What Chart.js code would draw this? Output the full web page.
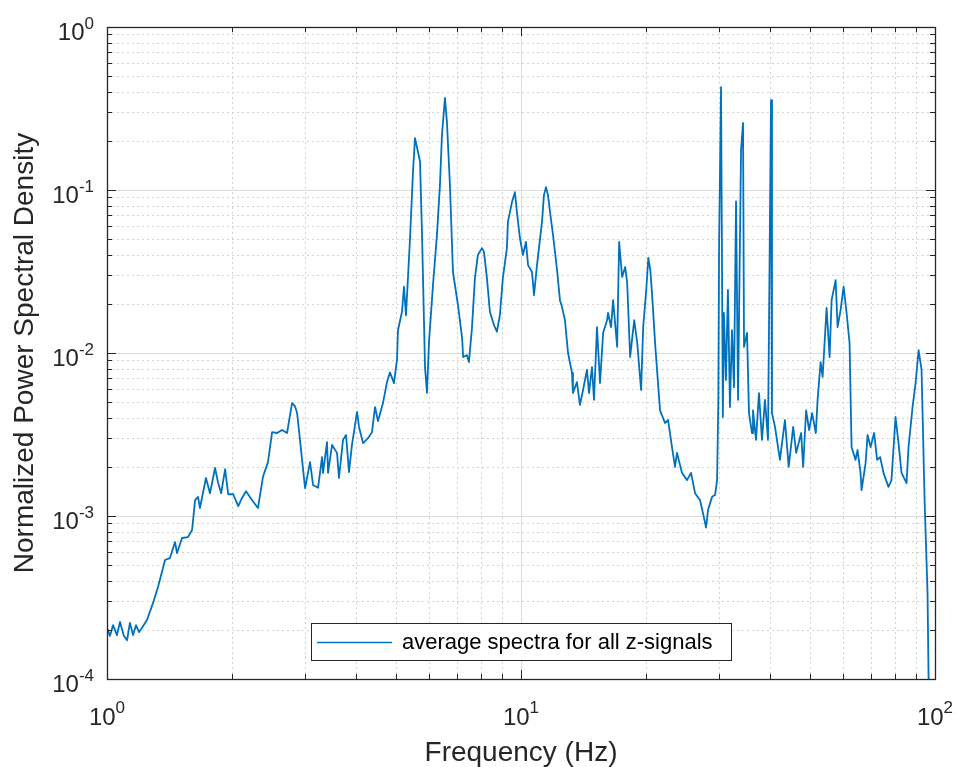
<!DOCTYPE html>
<html>
<head>
<meta charset="utf-8">
<title>Average spectra</title>
<script src="https://cdn.jsdelivr.net/npm/chart.js@4.4.1/dist/chart.umd.min.js"></script>
<style>
  html, body { margin: 0; padding: 0; background: #fff; }
  canvas { display: block; }
</style>
</head>
<body>
<canvas id="psd-chart" width="957" height="767"></canvas>
<script>
// 数据：频率 (Hz) 与归一化功率谱密度，读自原图
const freqHz = [
  1.000, 1.017, 1.034, 1.057, 1.075, 1.098, 1.118, 1.136, 1.156, 1.175, 1.195, 1.215,
  1.249, 1.292, 1.328, 1.381, 1.419, 1.460, 1.476, 1.518, 1.569, 1.605, 1.632, 1.659,
  1.677, 1.734, 1.773, 1.824, 1.855, 1.887, 1.929, 1.962, 2.018, 2.075, 2.119, 2.167,
  2.241, 2.316, 2.381, 2.448, 2.505, 2.575, 2.647, 2.722, 2.799, 2.846, 2.878, 2.925,
  3.009, 3.093, 3.146, 3.234, 3.307, 3.325, 3.400, 3.419, 3.496, 3.594, 3.634, 3.716,
  3.779, 3.842, 3.906, 4.017, 4.062, 4.154, 4.270, 4.366, 4.440, 4.514, 4.641, 4.746,
  4.825, 4.934, 5.017, 5.045, 5.158, 5.216, 5.274, 5.394, 5.484, 5.546, 5.640, 5.703,
  5.767, 5.864, 5.928, 5.995, 6.129, 6.266, 6.371, 6.443, 6.551, 6.624, 6.735, 6.849,
  7.043, 7.207, 7.248, 7.403, 7.486, 7.612, 7.740, 7.870, 8.048, 8.139, 8.273, 8.412,
  8.600, 8.746, 8.893, 9.042, 9.246, 9.298, 9.507, 9.667, 9.775, 9.944,
  10.11, 10.28, 10.40, 10.63, 10.75, 10.93, 11.05, 11.24, 11.36, 11.49, 11.62, 11.75,
  11.95, 12.22, 12.42, 12.56, 12.77, 12.99, 13.28, 13.35, 13.65, 13.88, 14.12, 14.43,
  14.60, 14.84, 15.01, 15.26, 15.52, 15.79, 16.14, 16.23, 16.50, 16.69, 17.07, 17.26,
  17.55, 17.85, 18.05, 18.35, 18.77, 19.09, 19.50, 19.73, 20.07, 20.30, 20.53, 20.75,
  21.11, 21.67, 22.28, 22.66, 23.16, 23.55, 23.81, 24.48, 25.17, 25.75, 26.33, 27.07,
  27.52, 27.99, 28.30, 28.94, 29.43, 29.76, 29.97, 30.09, 30.42, 30.73, 30.91, 31.26,
  31.61, 31.97, 32.33, 32.69, 33.07, 33.44, 34.00, 34.38, 34.57, 35.15, 35.54, 36.14,
  36.34, 36.95, 37.57, 38.20, 38.84, 39.50, 40.17, 40.39, 41.07, 42.21, 43.40, 44.32,
  45.44, 46.21, 47.50, 48.03, 48.83, 49.65, 50.49, 51.53, 52.05, 52.93, 53.52, 54.72,
  55.64, 56.27, 57.54, 58.18, 59.16, 60.15, 61.16, 62.18, 62.87, 64.28, 65.00, 66.10,
  66.47, 67.97, 68.73, 69.89, 71.28, 72.49, 73.70, 75.09, 77.19, 78.50, 80.29, 81.64,
  83.01, 85.36, 86.31, 88.27, 89.76, 91.27, 92.80, 94.37, 95.94, 96.48, 97.50
];

const psdValues = [
  2.06e-4, 1.84e-4, 2.14e-4, 1.86e-4, 2.24e-4, 1.84e-4, 1.73e-4, 2.21e-4, 1.86e-4, 2.14e-4, 1.94e-4, 2.06e-4,
  2.30e-4, 2.93e-4, 3.67e-4, 5.37e-4, 5.52e-4, 6.92e-4, 5.93e-4, 7.33e-4, 7.43e-4, 8.20e-4, 1.25e-3, 1.31e-3,
  1.12e-3, 1.71e-3, 1.38e-3, 1.97e-3, 1.60e-3, 1.38e-3, 1.94e-3, 1.36e-3, 1.36e-3, 1.15e-3, 1.29e-3, 1.42e-3,
  1.25e-3, 1.12e-3, 1.74e-3, 2.14e-3, 3.27e-3, 3.23e-3, 3.37e-3, 3.23e-3, 4.93e-3, 4.70e-3, 4.30e-3, 2.93e-3,
  1.48e-3, 2.14e-3, 1.55e-3, 1.49e-3, 2.30e-3, 1.84e-3, 2.84e-3, 1.84e-3, 2.73e-3, 2.44e-3, 1.71e-3, 2.93e-3,
  3.14e-3, 1.86e-3, 2.73e-3, 4.35e-3, 3.52e-3, 2.80e-3, 3.00e-3, 3.27e-3, 4.66e-3, 3.82e-3, 4.93e-3, 6.63e-3,
  7.61e-3, 6.54e-3, 9.11e-3, 1.38e-2, 1.79e-2, 2.55e-2, 1.70e-2, 5.04e-2, 0.129, 0.208, 0.171, 0.149,
  5.30e-2, 8.10e-3, 5.68e-3, 1.17e-2, 2.61e-2, 5.30e-2, 0.107, 0.218, 0.367, 0.261, 0.107, 3.14e-2,
  1.97e-2, 1.24e-2, 9.45e-3, 9.70e-3, 8.80e-3, 1.42e-2, 2.89e-2, 4.00e-2, 4.40e-2, 4.17e-2, 2.89e-2, 1.79e-2,
  1.49e-2, 1.35e-2, 1.71e-2, 2.89e-2, 4.40e-2, 6.37e-2, 8.40e-2, 9.70e-2, 7.33e-2, 5.04e-2,
  4.00e-2, 4.80e-2, 3.46e-2, 3.14e-2, 2.26e-2, 3.46e-2, 4.40e-2, 6.37e-2, 9.30e-2, 0.104, 9.30e-2, 7.33e-2,
  5.30e-2, 3.23e-2, 2.11e-2, 1.92e-2, 1.59e-2, 1.00e-2, 7.55e-3, 5.68e-3, 6.63e-3, 4.80e-3, 5.93e-3, 7.87e-3,
  5.68e-3, 8.20e-3, 5.16e-3, 1.44e-2, 6.54e-3, 1.33e-2, 1.59e-2, 1.76e-2, 1.44e-2, 2.11e-2, 1.09e-2, 4.80e-2,
  2.93e-2, 3.37e-2, 2.69e-2, 9.45e-3, 1.59e-2, 1.15e-2, 5.93e-3, 1.44e-2, 2.44e-2, 3.83e-2, 3.23e-2, 2.21e-2,
  1.09e-2, 4.45e-3, 3.72e-3, 3.88e-3, 2.65e-3, 2.00e-3, 2.44e-3, 1.84e-3, 1.66e-3, 1.84e-3, 1.38e-3, 1.25e-3,
  1.04e-3, 8.50e-4, 1.09e-3, 1.31e-3, 1.35e-3, 1.66e-3, 5.16e-3, 4.45e-2, 0.428, 4.05e-3, 1.76e-2, 6.83e-3,
  2.44e-2, 4.66e-3, 1.38e-2, 6.17e-3, 8.50e-2, 5.16e-3, 0.176, 0.258, 1.09e-2, 1.33e-2, 4.28e-3, 3.23e-3,
  4.45e-3, 2.93e-3, 5.68e-3, 2.93e-3, 5.16e-3, 2.93e-3, 0.356, 4.28e-3, 3.52e-3, 2.21e-3, 3.88e-3, 2.00e-3,
  3.52e-3, 2.44e-3, 3.23e-3, 2.00e-3, 4.45e-3, 3.37e-3, 4.28e-3, 3.23e-3, 5.16e-3, 8.80e-3, 7.13e-3, 1.89e-2,
  9.45e-3, 2.11e-2, 2.80e-2, 1.44e-2, 1.84e-2, 2.55e-2, 1.76e-2, 1.15e-2, 2.65e-3, 2.21e-3, 2.54e-3, 1.84e-3,
  1.44e-3, 2.11e-3, 3.14e-3, 2.65e-3, 3.23e-3, 2.21e-3, 2.30e-3, 1.84e-3, 1.51e-3, 1.66e-3, 4.05e-3, 2.80e-3,
  1.84e-3, 1.59e-3, 2.65e-3, 4.66e-3, 6.54e-3, 1.04e-2, 7.87e-3, 1.25e-3, 3.37e-4, 1.03e-4, 5.0e-5
];

// 坐标轴范围（十的幂次）
const xExpRange = [0, 2];
const yExpRange = [-4, 0];

const seriesLabel = 'average spectra for all z-signals';
const xTitle = 'Frequency (Hz)';
const yTitle = 'Normalized Power Spectral Density';

const LINE_BLUE = '#0072BD';
const AXIS_COLOR = '#262626';
const FONT_FAMILY = '"Liberation Sans", Arial, Helvetica, sans-serif';

/** 每个十倍程生成 1..9 的刻度，幂次处为主刻度 */
function decadeTicks([lo, hi]) {
  const ticks = [];
  for (let e = lo; e < hi; e++) {
    for (let m = 1; m <= 9; m++) {
      ticks.push({ value: m * Math.pow(10, e), major: m === 1, exp: e });
    }
  }
  ticks.push({ value: Math.pow(10, hi), major: true, exp: hi });
  return ticks;
}

const xTicks = decadeTicks(xExpRange);
const yTicks = decadeTicks(yExpRange);

// MATLAB 风格的网格、边框、刻度与图例
const matlabAxes = {
  id: 'matlabAxes',

  beforeDatasetsDraw(chart) {
    const { ctx, chartArea: { left, right, top, bottom }, scales: { x, y } } = chart;
    ctx.save();
    ctx.lineWidth = 1;

    // 次网格：点线
    ctx.setLineDash([2, 3]);
    ctx.strokeStyle = '#d2d2d2';
    ctx.beginPath();
    xTicks.filter(t => !t.major).forEach(t => {
      const px = Math.round(x.getPixelForValue(t.value)) + 0.5;
      ctx.moveTo(px, top); ctx.lineTo(px, bottom);
    });
    yTicks.filter(t => !t.major).forEach(t => {
      const py = Math.round(y.getPixelForValue(t.value)) + 0.5;
      ctx.moveTo(left, py); ctx.lineTo(right, py);
    });
    ctx.stroke();

    // 主网格：实线
    ctx.setLineDash([]);
    ctx.strokeStyle = '#dcdcdc';
    ctx.beginPath();
    xTicks.filter(t => t.major).forEach(t => {
      const px = Math.round(x.getPixelForValue(t.value)) + 0.5;
      ctx.moveTo(px, top); ctx.lineTo(px, bottom);
    });
    yTicks.filter(t => t.major).forEach(t => {
      const py = Math.round(y.getPixelForValue(t.value)) + 0.5;
      ctx.moveTo(left, py); ctx.lineTo(right, py);
    });
    ctx.stroke();
    ctx.restore();
  },

  afterDatasetsDraw(chart) {
    const { ctx, chartArea: { left, right, top, bottom }, scales: { x, y } } = chart;
    ctx.save();

    // 刻度线（向内，四边）
    ctx.strokeStyle = AXIS_COLOR;
    ctx.lineWidth = 1;
    ctx.beginPath();
    xTicks.forEach(t => {
      const px = Math.round(x.getPixelForValue(t.value)) + 0.5;
      const len = t.major ? 9 : 5;
      ctx.moveTo(px, bottom); ctx.lineTo(px, bottom - len);
      ctx.moveTo(px, top); ctx.lineTo(px, top + len);
    });
    yTicks.forEach(t => {
      const py = Math.round(y.getPixelForValue(t.value)) + 0.5;
      const len = t.major ? 9 : 5;
      ctx.moveTo(left, py); ctx.lineTo(left + len, py);
      ctx.moveTo(right, py); ctx.lineTo(right - len, py);
    });
    ctx.stroke();

    // 边框
    ctx.lineWidth = 1.3;
    ctx.strokeRect(Math.round(left) + 0.5, Math.round(top) + 0.5, Math.round(right - left), Math.round(bottom - top));

    // 刻度标签 10^n
    const baseFont = '24px ' + FONT_FAMILY;
    const expFont = '17px ' + FONT_FAMILY;
    ctx.fillStyle = AXIS_COLOR;
    ctx.textBaseline = 'alphabetic';
    ctx.textAlign = 'left';

    xTicks.filter(t => t.major).forEach(t => {
      const px = x.getPixelForValue(t.value);
      const expText = String(t.exp);
      ctx.font = baseFont;
      const wBase = ctx.measureText('10').width;
      ctx.font = expFont;
      const wExp = ctx.measureText(expText).width;
      const start = px - (wBase + wExp) / 2;
      ctx.font = baseFont;
      ctx.fillText('10', start, bottom + 46);
      ctx.font = expFont;
      ctx.fillText(expText, start + wBase, bottom + 34);
    });

    yTicks.filter(t => t.major).forEach(t => {
      const py = y.getPixelForValue(t.value);
      const expText = String(t.exp);
      const rightEdge = left - 13;
      ctx.font = expFont;
      const wExp = ctx.measureText(expText).width;
      ctx.fillText(expText, rightEdge - wExp, py + 2);
      ctx.font = baseFont;
      const wBase = ctx.measureText('10').width;
      ctx.fillText('10', rightEdge - wExp - wBase, py + 13);
    });

    // 图例（绘图区内，底部居中）
    const lg = { x: 311, y: 623, w: 420, h: 37 };
    ctx.fillStyle = '#ffffff';
    ctx.fillRect(lg.x, lg.y, lg.w, lg.h);
    ctx.lineWidth = 1;
    ctx.strokeStyle = AXIS_COLOR;
    ctx.strokeRect(lg.x + 0.5, lg.y + 0.5, lg.w, lg.h);
    ctx.strokeStyle = LINE_BLUE;
    ctx.lineWidth = 1.6;
    ctx.beginPath();
    ctx.moveTo(lg.x + 6, lg.y + 19.5);
    ctx.lineTo(lg.x + 81, lg.y + 19.5);
    ctx.stroke();
    ctx.fillStyle = '#000000';
    ctx.font = '22px ' + FONT_FAMILY;
    ctx.textBaseline = 'middle';
    ctx.fillText(chart.data.datasets[0].label, lg.x + 91, lg.y + 20);

    ctx.restore();
  }
};

new Chart(document.getElementById('psd-chart'), {
  type: 'line',
  data: {
    datasets: [{
      label: seriesLabel,
      data: freqHz.map((f, i) => ({ x: f, y: psdValues[i] })),
      borderColor: LINE_BLUE,
      borderWidth: 1.8,
      borderJoinStyle: 'round',
      pointRadius: 0,
      tension: 0,
      fill: false
    }]
  },
  options: {
    responsive: false,
    animation: false,
    devicePixelRatio: 1,
    layout: { padding: { left: 0, right: 22, top: 27, bottom: 0 } },
    scales: {
      x: {
        type: 'logarithmic',
        position: 'bottom',
        min: Math.pow(10, xExpRange[0]),
        max: Math.pow(10, xExpRange[1]),
        grid: { display: false },
        border: { display: false },
        ticks: { display: false },
        title: {
          display: true,
          text: xTitle,
          color: AXIS_COLOR,
          font: { family: FONT_FAMILY, size: 28, lineHeight: 1 },
          padding: { top: 0, bottom: 0 }
        },
        afterFit(scale) { scale.height = 88; }
      },
      y: {
        type: 'logarithmic',
        position: 'left',
        min: Math.pow(10, yExpRange[0]),
        max: Math.pow(10, yExpRange[1]),
        grid: { display: false },
        border: { display: false },
        ticks: { display: false },
        title: {
          display: true,
          text: yTitle,
          color: AXIS_COLOR,
          font: { family: FONT_FAMILY, size: 28, lineHeight: 1 },
          padding: { top: 11, bottom: 0 }
        },
        afterFit(scale) { scale.width = 107; }
      }
    },
    plugins: {
      legend: { display: false },
      tooltip: { enabled: false }
    }
  },
  plugins: [matlabAxes]
});
</script>
</body>
</html>
